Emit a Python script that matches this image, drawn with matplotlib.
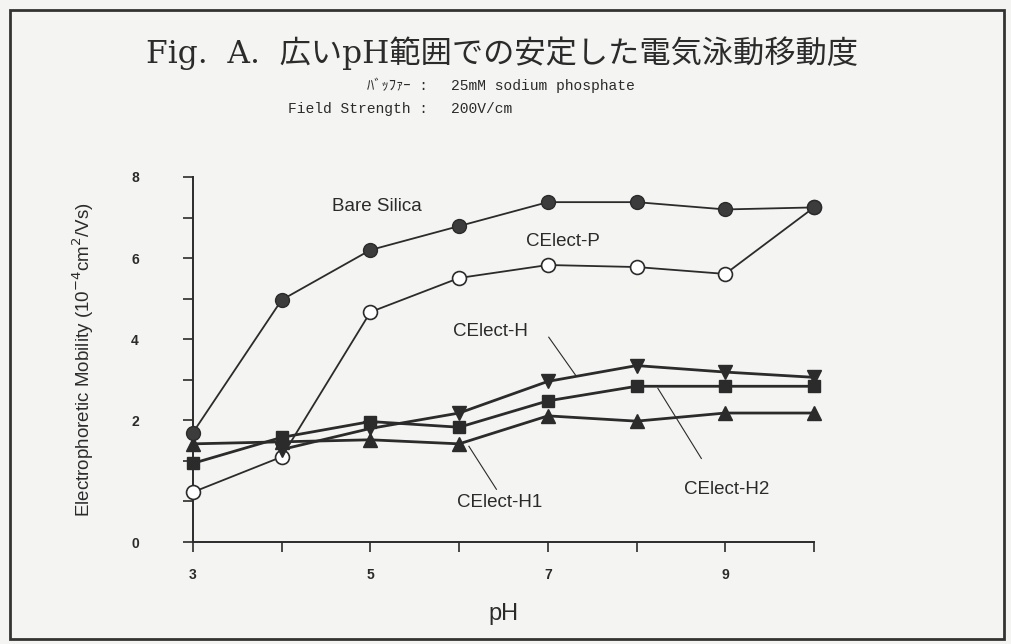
import matplotlib
matplotlib.use("Agg")
import matplotlib.pyplot as plt
import numpy as np
from matplotlib.patches import Rectangle

# data
ph = [3, 4, 5, 6, 7, 8, 9, 10]
bare_silica = [1.70, 4.97, 6.20, 6.79, 7.38, 7.38, 7.20, 7.25]
celect_p = [0.23, 1.10, 4.67, 5.51, 5.83, 5.78, 5.61, 7.25]
celect_h = [np.nan, 1.28, 1.80, 2.18, 2.96, 3.35, 3.19, 3.06]
celect_h2 = [0.94, 1.58, 1.97, 1.83, 2.48, 2.84, 2.84, 2.84]
celect_h1 = [1.42, 1.47, 1.52, 1.42, 2.11, 1.98, 2.18, 2.18]

ytick_vals = [-1, 0, 1, 2, 3, 4, 5, 6, 7, 8]
ytick_text = ["0", "", "", "2", "", "4", "", "6", "", "8"]
xtick_vals = [3, 4, 5, 6, 7, 8, 9, 10]
xtick_text = ["3", "", "5", "", "7", "", "9", ""]

INK = "#2b2b2b"
PAPER = "#f4f4f2"
SANS = "Liberation Sans"

fig = plt.figure(figsize=(10.11, 6.44), dpi=100, facecolor=PAPER)
ax = fig.add_axes([193 / 1011, 1 - 542 / 644, (814 - 193) / 1011, (542 - 177) / 644])
ax.set_facecolor(PAPER)

# outer frame of the scanned figure
fig.patches.append(Rectangle((10 / 1011, 1 - 639 / 644), 994 / 1011, 629 / 644,
                             transform=fig.transFigure, fill=False,
                             edgecolor="#333333", lw=2))

ax.plot(ph, celect_p, "-o", color=INK, lw=1.3, ms=10, mfc="white", mec=INK,
        mew=1.2, clip_on=False, zorder=3)
ax.plot(ph, celect_h1, "-^", color=INK, lw=2.0, ms=10, clip_on=False, zorder=3)
ax.plot(ph, celect_h2, "-s", color=INK, lw=2.0, ms=9, clip_on=False, zorder=3)
ax.plot(ph, celect_h, "-v", color=INK, lw=2.0, ms=10, clip_on=False, zorder=3)
ax.plot(ph, bare_silica, "-o", color=INK, lw=1.3, ms=10, mfc="#3c3c3c",
        clip_on=False, zorder=4)

ax.set_xlim(3, 10)
ax.set_ylim(-1, 8)
ax.spines["top"].set_visible(False)
ax.spines["right"].set_visible(False)
for s in ("left", "bottom"):
    ax.spines[s].set_color(INK)
    ax.spines[s].set_linewidth(1.4)
ax.set_yticks(ytick_vals)
ax.set_yticklabels(ytick_text)
ax.set_xticks(xtick_vals)
ax.set_xticklabels(xtick_text)
ax.tick_params(axis="both", direction="out", length=7, width=1.2, color=INK,
               labelsize=10, labelcolor=INK)
ax.tick_params(axis="y", pad=32)
ax.tick_params(axis="x", pad=12)
for lab in ax.get_xticklabels() + ax.get_yticklabels():
    lab.set_fontfamily(SANS)
    lab.set_fontweight("bold")

ax.set_xlabel("pH", fontsize=17, family=SANS, color=INK, labelpad=15)
ax.set_ylabel("Electrophoretic Mobility (10$^{-4}$cm$^{2}$/Vs)", fontsize=13.5,
              family=SANS, color=INK, labelpad=25)

# series labels and leader lines
ax.text(5.07, 7.28, "Bare Silica", fontsize=13.5, family=SANS, color=INK,
        ha="center", va="center")
ax.text(7.17, 6.40, "CElect-P", fontsize=13.5, family=SANS, color=INK,
        ha="center", va="center")
ax.text(6.35, 4.20, "CElect-H", fontsize=13.5, family=SANS, color=INK,
        ha="center", va="center")
ax.text(6.46, -0.02, "CElect-H1", fontsize=13.5, family=SANS, color=INK,
        ha="center", va="center")
ax.text(9.02, 0.30, "CElect-H2", fontsize=13.5, family=SANS, color=INK,
        ha="center", va="center")
ax.plot([7.01, 7.32], [4.05, 3.09], color=INK, lw=0.8)
ax.plot([6.11, 6.42], [1.36, 0.30], color=INK, lw=0.8)
ax.plot([8.24, 8.73], [2.79, 1.06], color=INK, lw=0.8)

# title block
fig.text(502 / 1011, 1 - 53 / 644, "Fig.  A.  広いpH範囲での安定した電気泳動移動度",
         fontsize=22.5, family=["DejaVu Serif", "Noto Sans CJK JP"], color=INK,
         ha="center", va="center")
mono = ["Liberation Mono", "Noto Sans CJK JP"]
fig.text(428 / 1011, 1 - 86 / 644, "ﾊﾞｯﾌｧｰ :", fontsize=10.5, family=mono,
         color=INK, ha="right", va="center")
fig.text(451 / 1011, 1 - 86 / 644, "25mM sodium phosphate", fontsize=10.5,
         family=mono, color=INK, ha="left", va="center")
fig.text(428 / 1011, 1 - 109 / 644, "Field Strength :", fontsize=10.5,
         family=mono, color=INK, ha="right", va="center")
fig.text(451 / 1011, 1 - 109 / 644, "200V/cm", fontsize=10.5, family=mono,
         color=INK, ha="left", va="center")

plt.savefig("out.png", dpi=100, facecolor=PAPER)
print("saved")
